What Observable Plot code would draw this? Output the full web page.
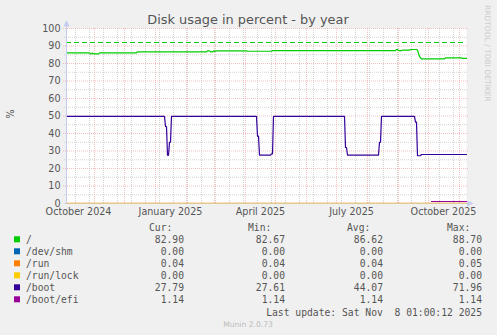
<!DOCTYPE html>
<html><head><meta charset="utf-8">
<script src="https://cdn.jsdelivr.net/npm/d3@7"></script>
<script src="https://cdn.jsdelivr.net/npm/@observablehq/plot@0.6"></script>
<style>
html,body{margin:0;padding:0;background:#f0f0f0;}
#chart{width:497px;height:335px;}
svg{display:block;}
</style></head><body><div id="chart"></div>
<script>
// ---------- data ----------
const chartTitle = "Disk usage in percent - by year";
const yLabel = "%";
const domainStart = "2024-10-04";
const domainEnd = "2025-11-08";

const yTicks = [0, 10, 20, 30, 40, 50, 60, 70, 80, 90, 100];
const yMinorTicks = [5, 15, 25, 35, 45, 55, 65, 75, 85, 95];
const xTickDates = ["2024-10-16", "2025-01-16", "2025-04-16", "2025-07-16", "2025-10-16"];
const xTickLabels = ["October 2024", "January 2025", "April 2025", "July 2025", "October 2025"];

const rootDates = ["2024-10-04","2024-10-27","2024-10-28","2024-10-29","2024-10-30","2024-10-31","2024-11-05","2024-11-06","2024-12-13","2024-12-14","2025-02-21","2025-02-22","2025-02-24","2025-02-25","2025-02-27","2025-02-28","2025-03-01","2025-03-02","2025-04-02","2025-04-03","2025-04-27","2025-04-28","2025-08-29","2025-08-30","2025-08-31","2025-09-01","2025-09-04","2025-09-05","2025-09-12","2025-09-13","2025-09-19","2025-09-20","2025-09-22","2025-09-24","2025-10-17","2025-10-18","2025-11-03","2025-11-04","2025-11-06","2025-11-07","2025-11-08"];
const rootValues = [86.1,86.1,85.5,85.5,86.0,85.5,85.5,86.1,86.1,86.7,86.7,87.2,87.2,86.7,86.7,87.2,86.8,87.2,87.2,87.0,87.0,87.4,87.4,88.0,88.0,87.4,87.4,87.6,87.6,88.0,88.0,87.6,84.0,82.7,82.7,83.2,83.2,82.9,82.9,83.0,82.9];

const flatDates = ["2024-10-04", "2025-11-08"];
const shmValues = [0, 0];
const runValues = [0.04, 0.04];
const lockValues = [0, 0];

const bootDates = ["2024-10-04","2025-01-10","2025-01-11","2025-01-12","2025-01-13","2025-01-14","2025-01-15","2025-01-16","2025-01-17","2025-04-12","2025-04-13","2025-04-14","2025-04-15","2025-04-26","2025-04-27","2025-04-28","2025-04-29","2025-07-09","2025-07-10","2025-07-11","2025-07-12","2025-08-12","2025-08-13","2025-08-14","2025-08-15","2025-09-17","2025-09-18","2025-09-19","2025-09-20","2025-09-23","2025-09-24","2025-11-08"];
const bootValues = [49.8,49.8,44.0,44.0,27.6,27.6,35.0,35.0,49.8,49.8,38.5,38.5,27.7,27.7,28.4,28.4,49.8,49.8,32.0,32.0,27.7,27.7,35.0,35.0,49.8,49.8,46.5,46.5,27.3,27.3,28.0,28.0];

const efiDates = ["2025-10-04", "2025-11-08"];
const efiValues = [1.14, 1.14];

const warningValue = 92;

const seriesNames = ["/", "/dev/shm", "/run", "/run/lock", "/boot", "/boot/efi"];
const seriesColors = ["#00CC00", "#0066B3", "#FF8000", "#FFCC00", "#330099", "#990099"];
const curValues = ["82.90", "0.00", "0.04", "0.00", "27.79", "1.14"];
const minValues = ["82.67", "0.00", "0.04", "0.00", "27.61", "1.14"];
const avgValues = ["86.62", "0.00", "0.04", "0.00", "44.07", "1.14"];
const maxValues = ["88.70", "0.00", "0.05", "0.00", "71.96", "1.14"];
const lastUpdate = "Last update: Sat Nov  8 01:00:12 2025";
const footer = "Munin 2.0.73";
const watermark = "RRDTOOL / TOBI OETIKER";

// ---------- build ----------
const P = s => new Date(s + "T00:00:00Z");
const zip = (ds, vs) => ds.map((d, i) => ({date: P(d), value: vs[i]}));
const series = [
  zip(rootDates, rootValues),
  zip(flatDates, shmValues),
  zip(flatDates, runValues),
  zip(flatDates, lockValues),
  zip(bootDates, bootValues),
  zip(efiDates, efiValues)
];
const x0 = P(domainStart), x1 = P(domainEnd);
const monthStarts = d3.utcMonth.range(x0, x1);
const biweekly = d3.range(0, 400, 14).map(i => d3.utcDay.offset(P("2024-10-13"), i)).filter(d => d < x1);
const labelMap = new Map(xTickDates.map((d, i) => [+P(d), xTickLabels[i]]));

const minorStyle = {stroke: "#c8c8c8", strokeOpacity: 0.8, strokeDasharray: "1,1", strokeWidth: 1};
const majorStyle = {stroke: "#ee9999", strokeOpacity: 0.6, strokeDasharray: "1,1", strokeWidth: 1};

const chart = Plot.plot({
  width: 497, height: 335,
  marginLeft: 66, marginRight: 31, marginTop: 28, marginBottom: 132,
  style: {background: "transparent", fontFamily: "DejaVu Sans", fontSize: "9.6px", color: "#555", overflow: "visible"},
  x: {type: "utc", domain: [x0, x1]},
  y: {domain: [0, 100]},
  marks: [
    Plot.frame({fill: "white", stroke: "none"}),
    Plot.ruleY(yMinorTicks, {...minorStyle, insetLeft: -2, insetRight: -2}),
    Plot.ruleX(biweekly, {...minorStyle}),
    Plot.ruleY(yTicks.filter(v => v > 0), {...majorStyle, insetLeft: -3, insetRight: -2}),
    Plot.ruleX(monthStarts, {...majorStyle}),
    Plot.axisY(yTicks, {tickSize: 0, tickPadding: 6, fill: "#555", label: null}),
    Plot.axisX(xTickDates.map(P), {tickSize: 0, tickPadding: 5, fill: "#555", label: null, tickFormat: d => labelMap.get(+d)}),
    Plot.ruleY([warningValue], {stroke: "#00CC00", strokeWidth: 1.2, strokeDasharray: "5,3"}),
    ...series.map((s, i) => Plot.line(s, {x: "date", y: "value", stroke: seriesColors[i], strokeWidth: 1.2}))
  ]
});
document.getElementById("chart").appendChild(chart);

// ---------- decorations ----------
const svg = d3.select(chart);
const axisColor = "#c4ccf0";
svg.append("line").attr("x1", 66.5).attr("x2", 66.5).attr("y1", 203).attr("y2", 24).attr("stroke", axisColor);
svg.append("path").attr("d", "M63.5,26.5 L66.5,20 L69.5,26.5 Z").attr("fill", axisColor);
svg.append("line").attr("x1", 63).attr("x2", 468).attr("y1", 203.5).attr("y2", 203.5).attr("stroke", axisColor).attr("stroke-opacity", 0.6);
svg.append("path").attr("d", "M467,200.5 L473.5,203.5 L467,206.5 Z").attr("fill", axisColor);

svg.append("text").text(chartTitle).attr("x", 248).attr("y", 24)
  .attr("text-anchor", "middle").attr("font-family", "DejaVu Sans").attr("font-size", 12.9).attr("fill", "#555");
svg.append("text").text(yLabel).attr("transform", "translate(14,114) rotate(-90)")
  .attr("text-anchor", "middle").attr("font-family", "DejaVu Sans").attr("font-size", 9.6).attr("fill", "#555");
svg.append("text").text(watermark).attr("transform", "translate(485,5) rotate(90)")
  .attr("text-anchor", "start").attr("font-family", "DejaVu Sans").attr("font-size", 7.5).attr("fill", "#cccccc");
svg.append("text").text(footer).attr("x", 248).attr("y", 327)
  .attr("text-anchor", "middle").attr("font-family", "DejaVu Sans").attr("font-size", 7.6).attr("fill", "#bbbbbb");

// legend table
const mono = {"font-family": "DejaVu Sans Mono", "font-size": 9.7, "fill": "#555", "dominant-baseline": "central"};
const T = (str, x, y, anchor) => {
  const t = svg.append("text").text(str).attr("x", x).attr("y", y).attr("text-anchor", anchor).attr("xml:space", "preserve").style("white-space", "pre");
  for (const k in mono) t.attr(k, mono[k]);
  return t;
};
const headerY = 227.7;
T("Cur:", 149, headerY, "start");
T("Min:", 248, headerY, "start");
T("Avg:", 347, headerY, "start");
T("Max:", 447, headerY, "start");
seriesNames.forEach((name, i) => {
  const cy = 239.3 + i * 12;
  svg.append("rect").attr("x", 14).attr("y", cy - 3).attr("width", 6).attr("height", 6).attr("fill", seriesColors[i]);
  T(name, 26, cy, "start");
  T(curValues[i], 184, cy, "end");
  T(minValues[i], 285, cy, "end");
  T(avgValues[i], 383, cy, "end");
  T(maxValues[i], 482, cy, "end");
});
T(lastUpdate, 482, 312.3, "end");
</script>
</body></html>
